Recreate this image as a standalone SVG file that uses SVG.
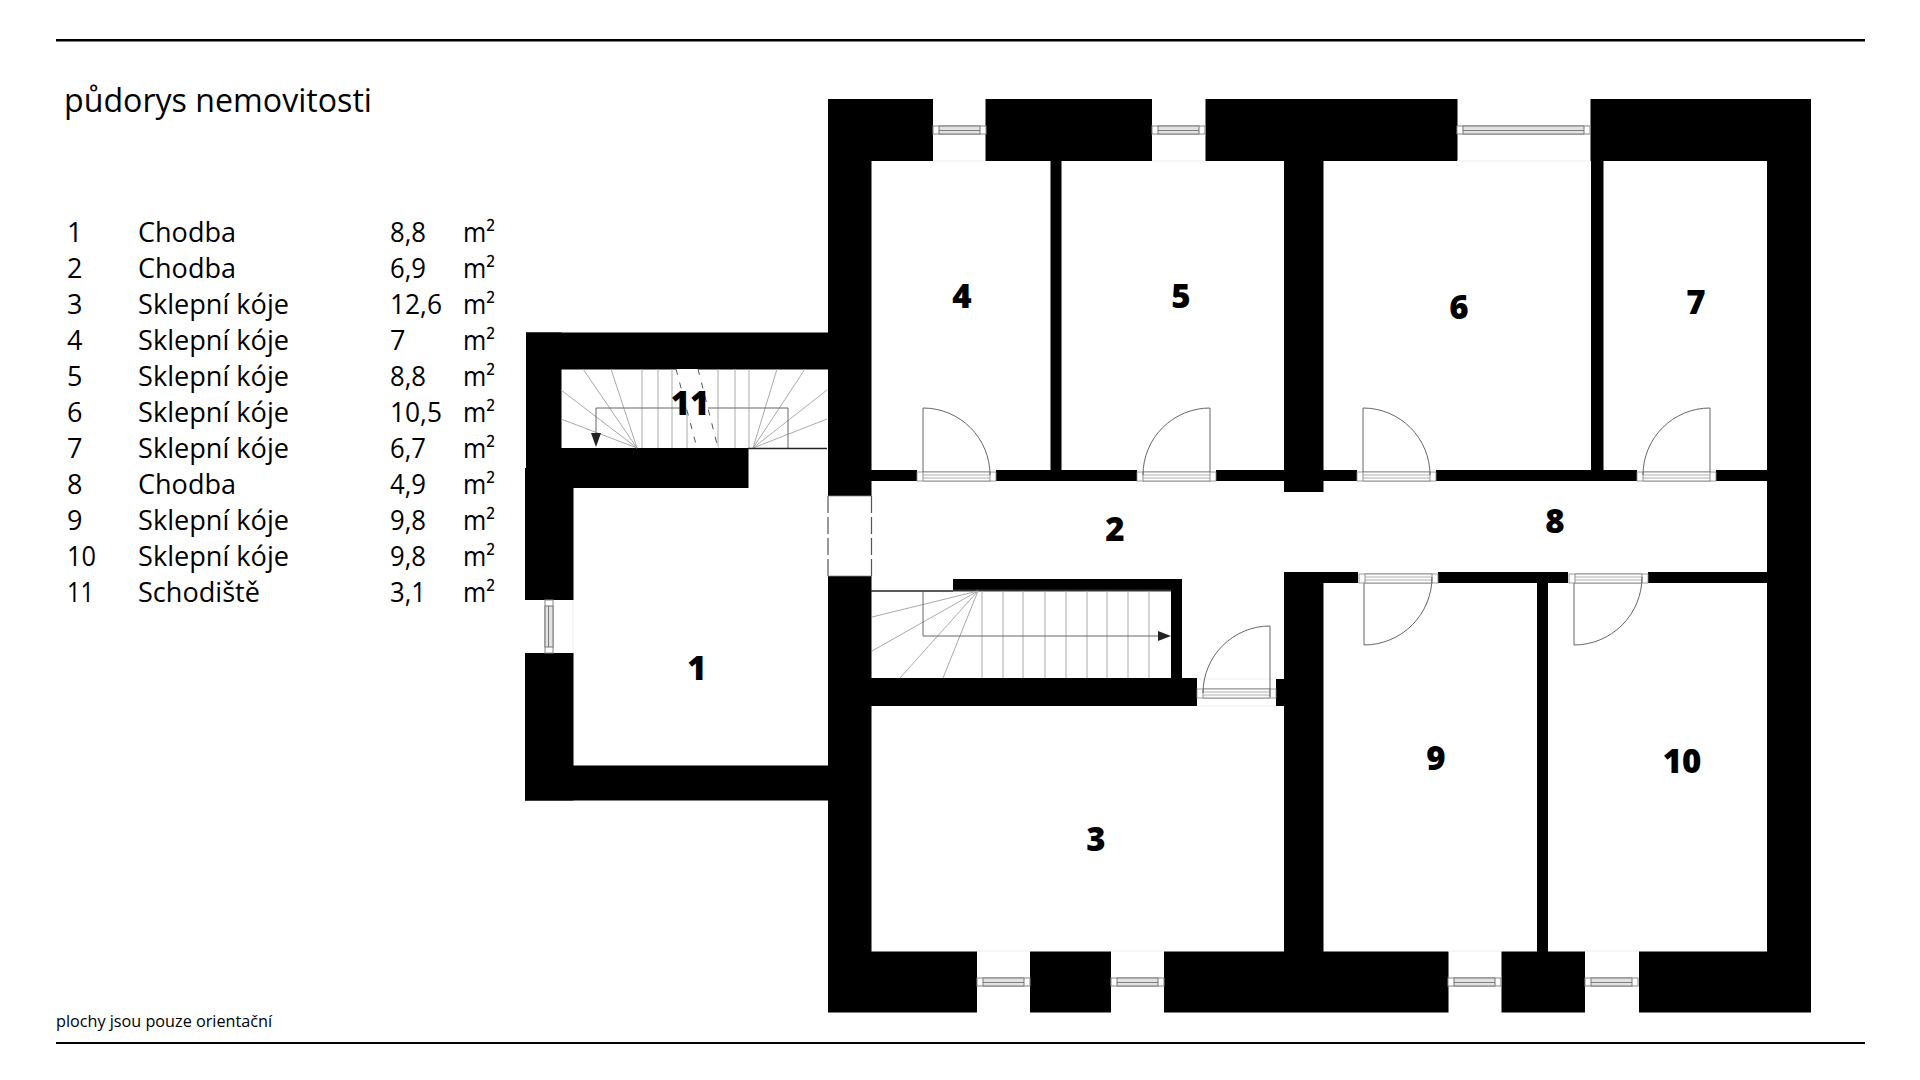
<svg xmlns="http://www.w3.org/2000/svg" width="1920" height="1080" viewBox="0 0 1920 1080">
<style>
text{font-family:"Open Sans","Noto Sans","Liberation Sans",sans-serif;fill:#000}
.t{font-size:27px}
.n{font-size:33px;font-weight:800;text-anchor:middle}
.th{fill:none;stroke:#666;stroke-width:1}
.sl{fill:none;stroke:#aaa;stroke-width:1}
.dk{fill:none;stroke:#222;stroke-width:1.5}
.fa{fill:none;stroke:#eee;stroke-width:1}
</style>
<defs>
<g id="win">
<rect x="0" y="0" width="53" height="8" fill="#fff" stroke="#888" stroke-width="1"/>
<rect x="6" y="0" width="41" height="8" fill="#e2e2e2" stroke="#777" stroke-width="1"/>
<path d="M6 4.500H47" stroke="#666" stroke-width=".8"/>
</g>
<g id="door">
<rect x="0" y="0" width="79" height="9" fill="#fff" stroke="#888" stroke-width=".8"/>
<rect x="6" y="0" width="67" height="9" fill="#fff" stroke="#777" stroke-width=".8"/>
<path d="M6 3H73M6 6H73" stroke="#999" stroke-width=".8"/>
</g>
</defs>
<rect width="1920" height="1080" fill="#fff"/>
<g id="rules" fill="#000">
<rect x="56" y="39" width="1809" height="2.500"/>
<rect x="56" y="1042" width="1809" height="2"/>
</g>
<g id="walls" fill="#000">
<rect x="828" y="99" width="105" height="62"/>
<rect x="985.500" y="99" width="166.500" height="62"/>
<rect x="1205.500" y="99" width="252" height="62"/>
<rect x="1590.500" y="99" width="220.500" height="62"/>
<rect x="828" y="99" width="43.500" height="397"/>
<rect x="828" y="576" width="43.500" height="436"/>
<rect x="1767" y="99" width="44" height="913"/>
<rect x="828" y="951.500" width="149" height="61"/>
<rect x="1030" y="951.500" width="81" height="61"/>
<rect x="1164" y="951.500" width="284.500" height="61"/>
<rect x="1501.500" y="951.500" width="83.500" height="61"/>
<rect x="1639" y="951.500" width="172" height="61"/>
<rect x="1050.500" y="161" width="11" height="309"/>
<rect x="1284" y="161" width="39.500" height="331"/>
<rect x="1591" y="161" width="12.500" height="309"/>
<rect x="871" y="470" width="46" height="11"/>
<rect x="996" y="470" width="141" height="11"/>
<rect x="1216" y="470" width="141" height="11"/>
<rect x="1436" y="470" width="201" height="11"/>
<rect x="1716" y="470" width="51" height="11"/>
<rect x="1284" y="572" width="74" height="11"/>
<rect x="1438" y="572" width="130" height="11"/>
<rect x="1648" y="572" width="119" height="11"/>
<rect x="1284" y="572" width="39.500" height="380"/>
<rect x="1537" y="583" width="11" height="369"/>
<rect x="953" y="579" width="229" height="12"/>
<rect x="1171" y="579" width="11" height="100"/>
<rect x="871" y="678" width="326" height="28"/>
<rect x="1276" y="679" width="8" height="27"/>
<rect x="526" y="332.500" width="302" height="37"/>
<rect x="526" y="332.500" width="35.500" height="136"/>
<rect x="526" y="448" width="222.500" height="40"/>
<rect x="525" y="468" width="48.500" height="132"/>
<rect x="525" y="653" width="48.500" height="147.500"/>
<rect x="525" y="765.500" width="303" height="35"/>
</g>
<g id="openings">
<path class="fa" d="M933 161H985M1152 161H1205M1457 161H1590M977 951H1030M1111 951H1164M1448 951H1501M1585 951H1639M573 600V653M1197 679H1276M1197 706H1276"/>
<path d="M828 496V576M871.500 496V576" fill="none" stroke="#555" stroke-width="1.200" stroke-dasharray="17 4"/>
<path d="M828 496H871M828 576H871" fill="none" stroke="#888" stroke-width=".8"/>
</g>
<g id="windows">
<use href="#win" x="933" y="126"/>
<use href="#win" x="1152" y="126"/>
<g>
<rect x="1457" y="126" width="133" height="8" fill="#fff" stroke="#888" stroke-width="1"/>
<rect x="1463" y="126" width="121" height="8" fill="#e2e2e2" stroke="#777" stroke-width="1"/>
<path d="M1463 130.500H1584" stroke="#666" stroke-width=".8"/>
</g>
<use href="#win" x="977" y="978"/>
<use href="#win" x="1111" y="978"/>
<use href="#win" x="1448" y="978"/>
<use href="#win" x="1585" y="978"/>
<use href="#win" transform="translate(553 600) rotate(90)"/>
</g>
<g id="doors">
<use href="#door" x="917" y="472"/>
<path class="th" d="M923 472V408A67 67 0 0 1 990 475"/>
<use href="#door" x="1137" y="472"/>
<path class="th" d="M1210 472V408A67 67 0 0 0 1143 475"/>
<use href="#door" x="1357" y="472"/>
<path class="th" d="M1363 472V408A67 67 0 0 1 1430 475"/>
<use href="#door" x="1637" y="472"/>
<path class="th" d="M1710 472V408A67 67 0 0 0 1643 475"/>
<use href="#door" x="1359" y="574"/>
<path class="th" d="M1364 583V645A68 68 0 0 0 1432 577"/>
<use href="#door" x="1569" y="574"/>
<path class="th" d="M1574 583V645A68 68 0 0 0 1642 577"/>
<use href="#door" x="1197" y="689"/>
<path class="th" d="M1270 697V626A67 67 0 0 0 1203 693"/>
</g>
<g id="stairs-lower">
<path class="dk" d="M871 591H953"/>
<path d="M953 590.500H1171" stroke="#333" stroke-width="2"/>
<path class="sl" d="M982 591V678M1003 591V678M1023 591V678M1045 591V678M1066 591V678M1087 591V678M1107 591V678M1128 591V678M1149 591V678"/>
<path class="sl" d="M978 591L943 678M978 591L900 678M978 591L872 651M978 591L872 617"/>
<path class="th" d="M923 591V636H1158"/>
<path d="M1158 631V641L1171 636Z" fill="#222"/>
</g>
<g id="stairs-upper">
<path class="sl" d="M642 369V448M658 369V448M672 369V448M687 369V448M718 369V448M735 369V448M749 369V448"/>
<path class="sl" d="M637 448L583 369M637 448L611 369M637 448L561 390M637 448L561 419M753 448L777 369M753 448L805 369M753 448L827 390M753 448L827 419"/>
<path class="th" d="M788 448V408H596V434"/>
<path d="M591 433H601L596 447Z" fill="#222"/>
<path d="M676 369H698L718 448H697Z" fill="#fff"/>
<path d="M676 369L697 448M698 369L718 448" fill="none" stroke="#555" stroke-width="1" stroke-dasharray="6 8"/>
<path class="dk" d="M748 448.500H827"/>
</g>
<g id="title">
<text x="64" y="112" font-size="33" textLength="308" lengthAdjust="spacingAndGlyphs">půdorys nemovitosti</text>
</g>
<g id="legend">
<text class="t" x="67" y="242">1</text><text class="t" x="138" y="242" textLength="98" lengthAdjust="spacingAndGlyphs">Chodba</text><text class="t" x="390" y="242" textLength="36" lengthAdjust="spacingAndGlyphs">8,8</text><text class="t" x="463" y="242" textLength="32" lengthAdjust="spacingAndGlyphs">m²</text>
<text class="t" x="67" y="278">2</text><text class="t" x="138" y="278" textLength="98" lengthAdjust="spacingAndGlyphs">Chodba</text><text class="t" x="390" y="278" textLength="36" lengthAdjust="spacingAndGlyphs">6,9</text><text class="t" x="463" y="278" textLength="32" lengthAdjust="spacingAndGlyphs">m²</text>
<text class="t" x="67" y="314">3</text><text class="t" x="138" y="314" textLength="151" lengthAdjust="spacingAndGlyphs">Sklepní kóje</text><text class="t" x="390" y="314" textLength="52" lengthAdjust="spacingAndGlyphs">12,6</text><text class="t" x="463" y="314" textLength="32" lengthAdjust="spacingAndGlyphs">m²</text>
<text class="t" x="67" y="350">4</text><text class="t" x="138" y="350" textLength="151" lengthAdjust="spacingAndGlyphs">Sklepní kóje</text><text class="t" x="390" y="350">7</text><text class="t" x="463" y="350" textLength="32" lengthAdjust="spacingAndGlyphs">m²</text>
<text class="t" x="67" y="386">5</text><text class="t" x="138" y="386" textLength="151" lengthAdjust="spacingAndGlyphs">Sklepní kóje</text><text class="t" x="390" y="386" textLength="36" lengthAdjust="spacingAndGlyphs">8,8</text><text class="t" x="463" y="386" textLength="32" lengthAdjust="spacingAndGlyphs">m²</text>
<text class="t" x="67" y="422">6</text><text class="t" x="138" y="422" textLength="151" lengthAdjust="spacingAndGlyphs">Sklepní kóje</text><text class="t" x="390" y="422" textLength="52" lengthAdjust="spacingAndGlyphs">10,5</text><text class="t" x="463" y="422" textLength="32" lengthAdjust="spacingAndGlyphs">m²</text>
<text class="t" x="67" y="458">7</text><text class="t" x="138" y="458" textLength="151" lengthAdjust="spacingAndGlyphs">Sklepní kóje</text><text class="t" x="390" y="458" textLength="36" lengthAdjust="spacingAndGlyphs">6,7</text><text class="t" x="463" y="458" textLength="32" lengthAdjust="spacingAndGlyphs">m²</text>
<text class="t" x="67" y="494">8</text><text class="t" x="138" y="494" textLength="98" lengthAdjust="spacingAndGlyphs">Chodba</text><text class="t" x="390" y="494" textLength="36" lengthAdjust="spacingAndGlyphs">4,9</text><text class="t" x="463" y="494" textLength="32" lengthAdjust="spacingAndGlyphs">m²</text>
<text class="t" x="67" y="530">9</text><text class="t" x="138" y="530" textLength="151" lengthAdjust="spacingAndGlyphs">Sklepní kóje</text><text class="t" x="390" y="530" textLength="36" lengthAdjust="spacingAndGlyphs">9,8</text><text class="t" x="463" y="530" textLength="32" lengthAdjust="spacingAndGlyphs">m²</text>
<text class="t" x="67" y="566" textLength="29" lengthAdjust="spacingAndGlyphs">10</text><text class="t" x="138" y="566" textLength="151" lengthAdjust="spacingAndGlyphs">Sklepní kóje</text><text class="t" x="390" y="566" textLength="36" lengthAdjust="spacingAndGlyphs">9,8</text><text class="t" x="463" y="566" textLength="32" lengthAdjust="spacingAndGlyphs">m²</text>
<text class="t" x="67" y="602" textLength="27" lengthAdjust="spacingAndGlyphs">11</text><text class="t" x="138" y="602" textLength="122" lengthAdjust="spacingAndGlyphs">Schodiště</text><text class="t" x="390" y="602" textLength="36" lengthAdjust="spacingAndGlyphs">3,1</text><text class="t" x="463" y="602" textLength="32" lengthAdjust="spacingAndGlyphs">m²</text>
</g>
<g id="room-labels">
<g id="room-1"><text class="n" x="697" y="680">1</text></g>
<g id="room-2"><text class="n" x="1115" y="541">2</text></g>
<g id="room-3"><text class="n" x="1096" y="851">3</text></g>
<g id="room-4"><text class="n" x="962" y="308">4</text></g>
<g id="room-5"><text class="n" x="1181" y="308">5</text></g>
<g id="room-6"><text class="n" x="1459" y="319">6</text></g>
<g id="room-7"><text class="n" x="1696" y="314">7</text></g>
<g id="room-8"><text class="n" x="1555" y="533">8</text></g>
<g id="room-9"><text class="n" x="1436" y="770">9</text></g>
<g id="room-10"><text class="n" x="1682" y="773">10</text></g>
<g id="room-11"><text class="n" x="690" y="415">11</text></g>
</g>
<g id="note"><text x="56" y="1027" font-size="17" textLength="216" lengthAdjust="spacingAndGlyphs">plochy jsou pouze orientační</text></g>
</svg>
